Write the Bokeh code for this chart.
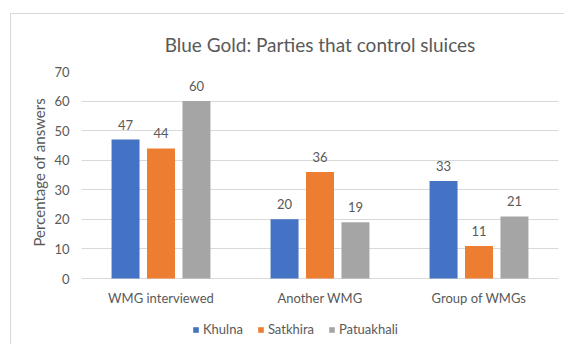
from bokeh.plotting import figure
from bokeh.models import (ColumnDataSource, FactorRange, Range1d, FixedTicker,
                          Legend, LegendItem, Title)
from bokeh.transform import dodge
from bokeh.core.properties import value
from bokeh.embed import file_html
from bokeh.resources import INLINE

# Survey answers: who controls the sluices, per district (percent)
categories = ["WMG interviewed", "Another WMG", "Group of WMGs"]
series_names = ["Khulna", "Satkhira", "Patuakhali"]
khulna = [47, 20, 33]
satkhira = [44, 36, 11]
patuakhali = [60, 19, 21]
y_ticks = [0, 10, 20, 30, 40, 50, 60, 70]

colors = ["#4472C4", "#ED7D31", "#A5A5A5"]
FONT = "Lato"
TXT = "#595959"
GRID = "#D9D9D9"

# the frame also holds the category labels and the legend under the bars:
# 207 px for 0..70, plus 66 px below the baseline
PLOT_PX, BELOW_PX = 207, 66
y_top = y_ticks[-1]
y_bottom = -y_top * BELOW_PX / PLOT_PX

source = ColumnDataSource(dict(cat=categories, Khulna=khulna,
                               Satkhira=satkhira, Patuakhali=patuakhali,
                               base=[0] * len(categories)))

p = figure(x_range=FactorRange(*categories, range_padding=0),
           y_range=Range1d(y_bottom, y_top),
           width=553, height=331, frame_width=477, frame_height=PLOT_PX + BELOW_PX,
           min_border_left=70, min_border_right=6, min_border_top=56, min_border_bottom=0,
           output_backend="svg", toolbar_location=None, tools="")
p.styles = {"margin-left": "10px", "margin-top": "13px",
            "border-left": f"1px solid {GRID}", "border-top": f"1px solid {GRID}"}

p.title.text = "Blue Gold: Parties that control sluices"
p.title.align = "center"
p.title.text_font = FONT
p.title.text_font_size = "19px"
p.title.text_font_style = "normal"
p.title.text_color = TXT
p.title.standoff = 32

p.outline_line_color = None
p.xgrid.grid_line_color = None
p.ygrid.grid_line_color = GRID
p.xaxis.visible = False

p.yaxis.ticker = FixedTicker(ticks=y_ticks)
p.yaxis.axis_line_color = None
p.yaxis.major_tick_line_color = None
p.yaxis.minor_tick_line_color = None
p.yaxis.major_tick_out = 0
p.yaxis.major_tick_in = 0
p.yaxis.minor_tick_out = 0
p.yaxis.major_label_standoff = 12
p.yaxis.major_label_text_font = FONT
p.yaxis.major_label_text_font_size = "13px"
p.yaxis.major_label_text_color = TXT

# y-axis caption, centred on the 0..70 part of the frame
ylab = Title(text="Percentage of answers", align="left", offset=98, standoff=7,
             text_font=FONT, text_font_size="15px", text_font_style="normal",
             text_color=TXT)
p.add_layout(ylab, "left")

# category names under the baseline
p.text(x="cat", y="base", text="cat", source=source, y_offset=19,
       text_align="center", text_baseline="middle",
       text_font=value(FONT), text_font_size="13px", text_color=TXT)

offsets = [-0.223, 0.0, 0.223]
items = []
for name, col, off in zip(series_names, colors, offsets):
    r = p.vbar(x=dodge("cat", off, range=p.x_range), top=name, width=0.176,
               source=source, fill_color=col, line_color=None)
    # value label above each bar, text taken from the bar's own value
    p.text(x=dodge("cat", off, range=p.x_range), y=name, text=name, source=source,
           text_align="center", text_baseline="middle", y_offset=-15,
           text_font=value(FONT), text_font_size="13px", text_color=TXT)
    items.append(LegendItem(label=name, renderers=[r]))

legend = Legend(items=items, orientation="horizontal", location=(111, 7),
                glyph_width=7, glyph_height=7, label_standoff=4, spacing=14,
                label_text_font=FONT, label_text_font_size="13px", label_text_color=TXT,
                border_line_color=None, background_fill_alpha=0,
                padding=0, margin=0)
p.add_layout(legend, "center")

open("out.html", "w").write(file_html(p, INLINE))
